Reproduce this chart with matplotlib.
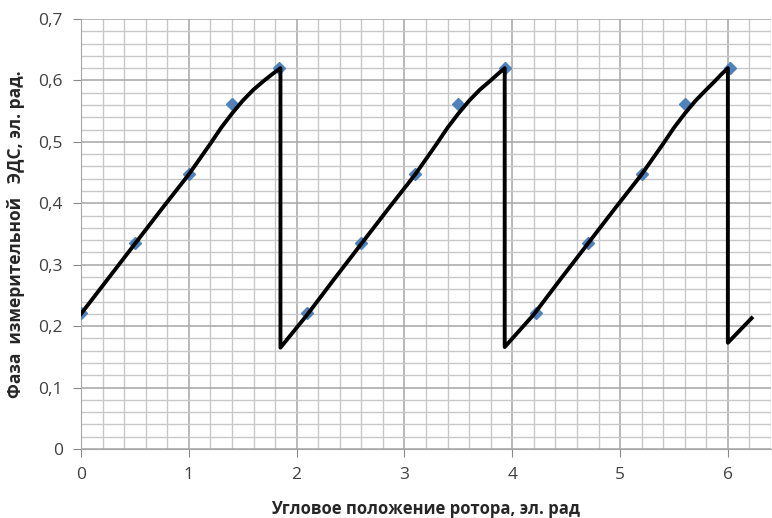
import matplotlib.pyplot as plt
from matplotlib.ticker import MultipleLocator, FuncFormatter

# measured points (blue diamonds)
pts_x = [0, 0.5, 1.0, 1.4, 1.84, 2.1, 2.6, 3.1, 3.5, 3.93, 4.22, 4.7, 5.2, 5.6, 6.02]
pts_y = [0.222, 0.335, 0.447, 0.561, 0.62, 0.221, 0.335, 0.447, 0.561, 0.62,
         0.221, 0.335, 0.447, 0.561, 0.62]

# theoretical curve (black line)
line_x = [0, 0.25, 0.5, 0.75, 1.0, 1.2, 1.3, 1.4, 1.5, 1.6, 1.7, 1.78, 1.85,
          1.85, 2.1, 2.35, 2.6, 2.85, 3.1, 3.3, 3.4, 3.5, 3.6, 3.7, 3.8, 3.87, 3.93,
          3.93, 4.2, 4.45, 4.7, 4.95, 5.2, 5.4, 5.5, 5.6, 5.7, 5.8, 5.88, 5.94, 6.0,
          6.0, 6.22]
line_y = [0.22, 0.277, 0.334, 0.391, 0.447, 0.497, 0.523, 0.546, 0.567, 0.585, 0.6, 0.611, 0.62,
          0.165, 0.219, 0.277, 0.334, 0.391, 0.447, 0.497, 0.523, 0.546, 0.567, 0.585, 0.6, 0.611, 0.62,
          0.166, 0.219, 0.277, 0.334, 0.391, 0.447, 0.497, 0.523, 0.546, 0.567, 0.585, 0.599, 0.61, 0.62,
          0.173, 0.213]

x_ticks = [0, 1, 2, 3, 4, 5, 6]

plt.rcParams['font.family'] = ['Open Sans', 'DejaVu Sans']

fig = plt.figure(figsize=(7.72, 5.18), dpi=100)
ax = fig.add_axes([81 / 772, 1 - 449 / 518, 690 / 772, 430 / 518])

ax.plot(pts_x, pts_y, linestyle='none', marker='D', markersize=6.5,
        color='#4f81bd', zorder=3)
ax.plot(line_x, line_y, color='black', linewidth=2.8, zorder=4,
        solid_joinstyle='round')

ax.set_xlim(0, 6.4)
ax.set_ylim(0, 0.7)
ax.set_xticks(x_ticks)
ax.xaxis.set_minor_locator(MultipleLocator(0.2))
ax.yaxis.set_major_locator(MultipleLocator(0.1))
ax.yaxis.set_minor_locator(MultipleLocator(0.02))
ax.yaxis.set_major_formatter(FuncFormatter(lambda v, p: ('%.1f' % v).replace('.', ',') if v else '0'))

ax.grid(which='major', color='#a6a6a6', linewidth=1.1)
ax.grid(which='minor', color='#c8c8c8', linewidth=1.0)
ax.set_axisbelow(True)

for s in ax.spines.values():
    s.set_color('#a6a6a6')
ax.spines['top'].set_visible(False)
ax.spines['right'].set_visible(False)

ax.tick_params(which='major', length=6, color='#888888', labelsize=12.5,
               labelcolor='#404040', pad=7)
ax.tick_params(which='minor', length=0)

ax.set_xlabel('Угловое положение ротора, эл. рад', fontsize=12, fontweight='bold',
              color='#262626', labelpad=12)
ax.set_ylabel('Фаза  измерительной   ЭДС, эл. рад.', fontsize=12.5, fontweight='bold',
              color='#262626', labelpad=10)

fig.savefig('out.png', dpi=100)
